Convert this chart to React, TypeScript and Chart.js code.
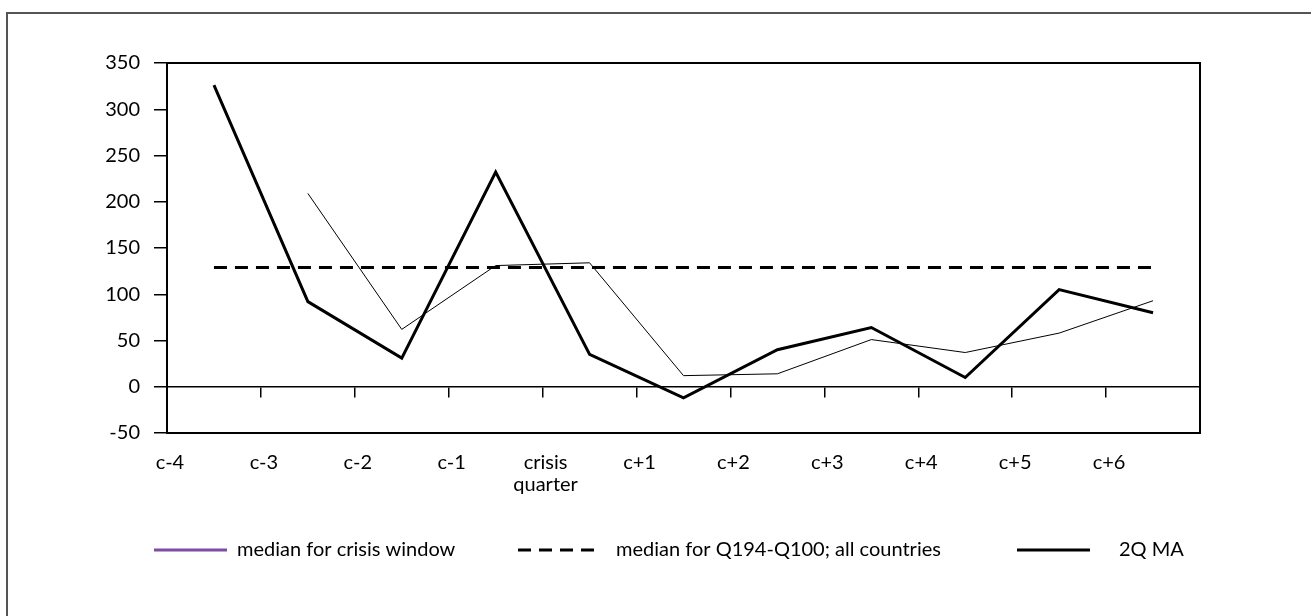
import React, { useEffect, useRef } from "react";
import { Chart, registerables } from "chart.js";

Chart.register(...registerables);

// ---- data ----
const quarters: (string | string[])[] = [
  "c-4", "c-3", "c-2", "c-1", ["crisis", "quarter"], "c+1", "c+2", "c+3", "c+4", "c+5", "c+6",
];
const medianCrisisWindow: (number | null)[] = [null, 209, 62, 131, 134, 12, 14, 51, 37, 58, 93];
const medianAllCountries: number[] = [129, 129, 129, 129, 129, 129, 129, 129, 129, 129, 129];
const movingAverage2Q: number[] = [326, 92, 31, 232, 35, -12, 40, 64, 10, 105, 80];
const seriesLabels = [
  "median for crisis window",
  "median for Q194-Q100; all countries",
  "2Q MA",
];
const yMin = -50;
const yMax = 350;
const yStep = 50;

const FONT = "Lato, 'Open Sans', 'DejaVu Sans', sans-serif";
const FONT_SIZE = 20;
const LEGEND_COLORS = ["#7b4ea3", "#000000", "#000000"];

const framePlugin = {
  id: "frame",
  afterDraw(chart: any) {
    const { ctx, chartArea } = chart;
    ctx.save();
    // plot frame
    ctx.strokeStyle = "#000";
    ctx.lineWidth = 2;
    ctx.strokeRect(chartArea.left, chartArea.top, chartArea.right - chartArea.left, chartArea.bottom - chartArea.top);
    // outer chart border (top + left visible)
    ctx.strokeStyle = "#555";
    ctx.lineWidth = 2;
    ctx.beginPath();
    ctx.moveTo(7, chart.height);
    ctx.lineTo(7, 13);
    ctx.lineTo(chart.width, 13);
    ctx.stroke();

    // legend
    const ds = chart.data.datasets;
    const items = [
      { x1: 154, x2: 227, tx: 237, ds: ds[0], color: LEGEND_COLORS[0] },
      { x1: 518, x2: 595, tx: 616, ds: ds[1], color: LEGEND_COLORS[1] },
      { x1: 1017, x2: 1090, tx: 1119, ds: ds[2], color: LEGEND_COLORS[2] },
    ];
    const ly = 550;
    items.forEach((it) => {
      ctx.beginPath();
      ctx.strokeStyle = it.color;
      ctx.lineWidth = 3;
      ctx.setLineDash(it.ds.borderDash || []);
      ctx.moveTo(it.x1, ly);
      ctx.lineTo(it.x2, ly);
      ctx.stroke();
      ctx.setLineDash([]);
      ctx.fillStyle = "#000";
      ctx.font = `${FONT_SIZE}px ${FONT}`;
      ctx.textBaseline = "middle";
      ctx.textAlign = "left";
      ctx.fillText(it.ds.label, it.tx, ly);
    });
    ctx.restore();
  },
};

function ChartView() {
  const ref = useRef<HTMLCanvasElement | null>(null);
  useEffect(() => {
    if (!ref.current) return;
    const chart = new Chart(ref.current, {
      type: "line",
      data: {
        labels: quarters as any,
        datasets: [
          {
            label: seriesLabels[0],
            data: medianCrisisWindow,
            borderColor: "#000",
            borderWidth: 1,
            pointRadius: 0,
            tension: 0,
          },
          {
            label: seriesLabels[1],
            data: medianAllCountries,
            borderColor: "#000",
            borderWidth: 3,
            borderDash: [13, 8],
            pointRadius: 0,
            tension: 0,
          },
          {
            label: seriesLabels[2],
            data: movingAverage2Q,
            borderColor: "#000",
            borderWidth: 3,
            pointRadius: 0,
            tension: 0,
            borderJoinStyle: "miter",
          },
        ],
      },
      options: {
        animation: false,
        responsive: false,
        layout: { padding: { left: 0, top: 63, right: 111, bottom: 0 } },
        plugins: {
          legend: { display: false },
          tooltip: { enabled: false },
        },
        scales: {
          x: {
            type: "category",
            position: "bottom",
            offset: true,
            grid: { display: false, drawTicks: false, offset: true },
            border: { display: false },
            ticks: {
              color: "#000",
              font: { family: FONT, size: FONT_SIZE, lineHeight: 1.1 },
              padding: 19,
              labelOffset: -44,
              maxRotation: 0,
              autoSkip: false,
            },
            afterFit: (scale: any) => {
              scale.height = 183;
            },
          },
          x0: {
            type: "category",
            position: { y: 0 } as any,
            offset: true,
            grid: {
              drawOnChartArea: false,
              offset: true,
              tickLength: 10,
              color: "#000",
              lineWidth: 1.5,
            },
            border: { display: true, color: "#000", width: 1.5 },
            ticks: { display: false },
          },
          y: {
            type: "linear",
            min: yMin,
            max: yMax,
            ticks: {
              stepSize: yStep,
              color: "#000",
              font: { family: FONT, size: FONT_SIZE },
              padding: 14,
            },
            grid: {
              drawOnChartArea: false,
              tickLength: 13,
              color: "#000",
              lineWidth: 1.5,
            },
            border: { display: true, color: "#000", width: 2 },
            afterFit: (scale: any) => {
              scale.width = 167;
            },
          },
        },
      },
      plugins: [framePlugin],
    });
    return () => chart.destroy();
  }, []);
  return <canvas ref={ref} width={1311} height={616} style={{ display: "block" }} />;
}

export default function App() {
  return (
    <div style={{ position: "fixed", left: 0, top: 0, width: 1311, height: 616, background: "#fff" }}>
      <ChartView />
    </div>
  );
}
